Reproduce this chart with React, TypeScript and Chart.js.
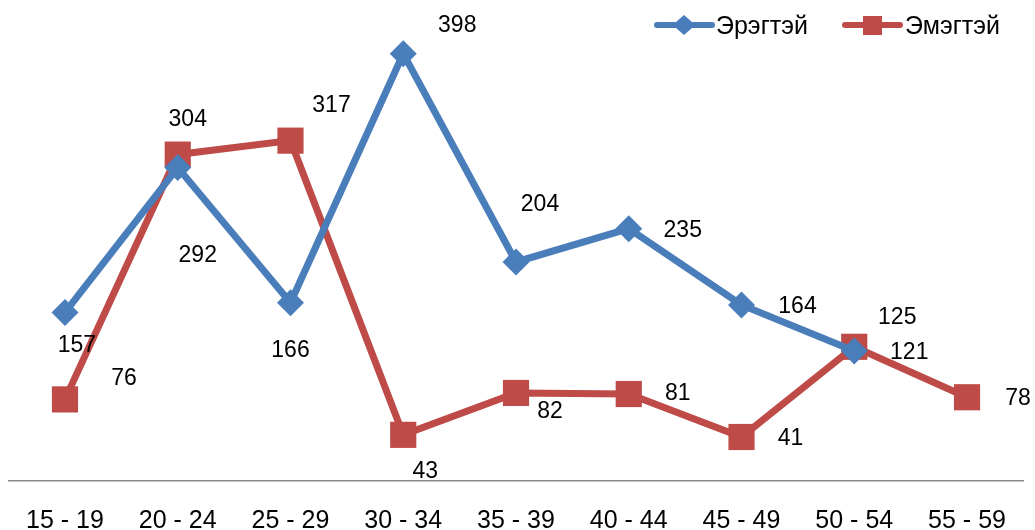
import React, { useEffect, useRef } from "react";
import { Chart, registerables } from "chart.js";

Chart.register(...registerables);

const categories = ["15 - 19", "20 - 24", "25 - 29", "30 - 34", "35 - 39", "40 - 44", "45 - 49", "50 - 54", "55 - 59"];
const maleValues: (number | null)[] = [157, 292, 166, 398, 204, 235, 164, 121, null];
const femaleValues: (number | null)[] = [76, 304, 317, 43, 82, 81, 41, 125, 78];
const seriesNames = ["Эрэгтэй", "Эмэгтэй"];

const BLUE = "#4A7EBB";
const RED = "#BE4B48";
const FONT = "'Liberation Sans', Arial, sans-serif";

// label placement offsets (px) relative to each point – styling only
const maleLabelOffsets = [[12, 31], [20, 86], [0, 46], [54, -30], [24, -59], [54, 0], [56, 0], [55, 0], [0, 0]];
const femaleLabelOffsets = [[59, -23], [10, -37], [41, -37], [22, 35], [34, 17], [49, -2], [49, 0], [43, -31], [51, 0]];

const labelPlugin = {
  id: "customLabels",
  afterDatasetsDraw(chart: any) {
    const ctx = chart.ctx;
    ctx.save();
    ctx.fillStyle = "#000";
    ctx.font = `23px ${FONT}`;
    ctx.textAlign = "center";
    ctx.textBaseline = "alphabetic";
    chart.data.datasets.forEach((ds: any, di: number) => {
      const meta = chart.getDatasetMeta(di);
      const offs = di === 0 ? maleLabelOffsets : femaleLabelOffsets;
      meta.data.forEach((pt: any, i: number) => {
        const v = ds.data[i];
        if (v === null || v === undefined) return;
        const [dx, dy] = offs[i];
        ctx.fillText(String(v), pt.x + dx, pt.y + dy + 8.2);
      });
    });
    ctx.restore();
  },
  afterDraw(chart: any) {
    const ctx = chart.ctx;
    ctx.save();
    // legend
    const items = [
      { name: seriesNames[0], color: BLUE, x1: 657, x2: 712, mx: 684, style: "diamond", tx: 716 },
      { name: seriesNames[1], color: RED, x1: 845, x2: 900, mx: 872.5, style: "square", tx: 905 },
    ];
    const ly = 25;
    items.forEach((it) => {
      ctx.strokeStyle = it.color;
      ctx.lineWidth = 6;
      ctx.lineCap = "round";
      ctx.beginPath();
      ctx.moveTo(it.x1, ly);
      ctx.lineTo(it.x2, ly);
      ctx.stroke();
      ctx.fillStyle = it.color;
      ctx.beginPath();
      if (it.style === "diamond") {
        ctx.moveTo(it.mx - 11.5, ly);
        ctx.lineTo(it.mx, ly - 10);
        ctx.lineTo(it.mx + 11.5, ly);
        ctx.lineTo(it.mx, ly + 10);
        ctx.closePath();
      } else {
        ctx.rect(it.mx - 9.5, ly - 9, 19, 19);
      }
      ctx.fill();
      ctx.fillStyle = "#000";
      ctx.font = `25px ${FONT}`;
      ctx.textAlign = "left";
      ctx.textBaseline = "alphabetic";
      ctx.fillText(it.name, it.tx, 34.3);
    });
    ctx.restore();
  },
};

export default function App() {
  const ref = useRef<HTMLCanvasElement | null>(null);
  useEffect(() => {
    if (!ref.current) return;
    const chart = new Chart(ref.current, {
      type: "line",
      data: {
        labels: categories,
        datasets: [
          {
            label: seriesNames[0],
            data: maleValues,
            borderColor: BLUE,
            backgroundColor: BLUE,
            borderWidth: 7,
            pointStyle: "rectRot",
            pointRadius: 13.5,
            pointBorderWidth: 0,
            pointBackgroundColor: BLUE,
            pointBorderColor: BLUE,
            tension: 0,
            clip: false as any,
            spanGaps: false,
          },
          {
            label: seriesNames[1],
            data: femaleValues,
            borderColor: RED,
            backgroundColor: RED,
            borderWidth: 7,
            pointStyle: "rect",
            pointRadius: 18.5,
            pointBorderWidth: 0,
            pointBackgroundColor: RED,
            pointBorderColor: RED,
            tension: 0,
            clip: false as any,
          },
        ],
      },
      options: {
        animation: false,
        responsive: false,
        maintainAspectRatio: false,
        layout: { autoPadding: false, padding: { left: 8.6, right: 11.6, top: 0, bottom: 0 } },
        plugins: {
          legend: { display: false },
          tooltip: { enabled: false },
        },
        scales: {
          x: {
            type: "category",
            offset: true,
            grid: { display: false, drawTicks: false },
            border: { display: true, color: "#898989", width: 1.5 },
            ticks: {
              color: "#000",
              font: { family: FONT, size: 25 },
              padding: 25,
              maxRotation: 0,
              autoSkip: false,
            },
            afterFit: (scale: any) => {
              scale.height = 49;
            },
          },
          y: {
            display: false,
            min: 0,
            max: 448,
          },
        },
      },
      plugins: [labelPlugin],
    });
    return () => chart.destroy();
  }, []);
  return (
    <div style={{ position: "fixed", left: 0, top: 0, width: 1035, height: 530, background: "#fff" }}>
      <canvas ref={ref} width={1035} height={530} style={{ width: 1035, height: 530, display: "block" }} />
    </div>
  );
}
